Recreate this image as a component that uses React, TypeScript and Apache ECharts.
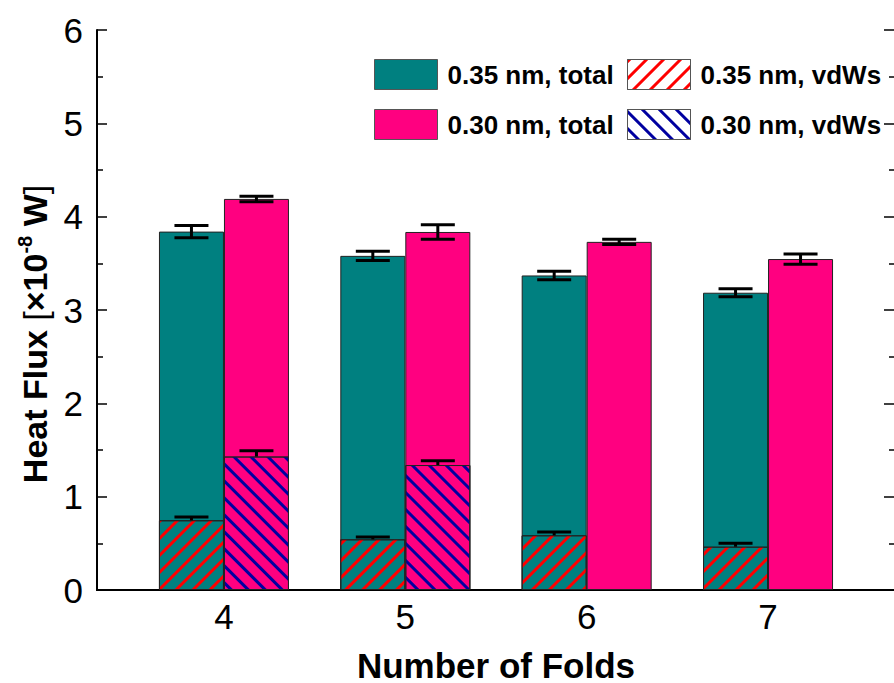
import React, { useEffect, useRef } from "react";
import * as echarts from "echarts";

const CATEGORIES = [4, 5, 6, 7];
const TOTAL_035 = [3.84, 3.58, 3.37, 3.185];
const TOTAL_035_ERR = [0.065, 0.05, 0.045, 0.043];
const TOTAL_030 = [4.19, 3.836, 3.73, 3.546];
const TOTAL_030_ERR = [0.03, 0.077, 0.027, 0.055];
const VDW_035 = [0.747, 0.543, 0.586, 0.464];
const VDW_035_ERR = [0.035, 0.025, 0.035, 0.036];
const VDW_030: (number | null)[] = [1.43, 1.339, null, null];
const VDW_030_ERR: (number | null)[] = [0.063, 0.046, null, null];
const X_TICK_VALUES = [4, 5, 6, 7];

const NAME_T35 = "0.35 nm, total";
const NAME_T30 = "0.30 nm, total";
const NAME_V35 = "0.35 nm, vdWs";
const NAME_V30 = "0.30 nm, vdWs";

const FONT = "'Liberation Sans', Arial, Helvetica, sans-serif";
const TEAL = "#008080";
const PINK = "#FF0080";
const BAR_WIDTH = 65;
const CAP = 34;

export default function App() {
  const ref = useRef<HTMLDivElement>(null);
  useEffect(() => {
    if (!ref.current) return;
    const chart = echarts.init(ref.current, null, { renderer: "svg" });

    const redDecal = {
      symbol: "rect",
      symbolSize: 1,
      dashArrayX: [1, 0],
      dashArrayY: [2.6, 8.2],
      rotation: -Math.PI / 4,
      color: "#FF0000",
    };
    const blueDecal = {
      symbol: "rect",
      symbolSize: 1,
      dashArrayX: [1, 0],
      dashArrayY: [2.6, 8.2],
      rotation: Math.PI / 4,
      color: "#0000A0",
    };
    const border = { borderColor: "#222", borderWidth: 1 };

    const errData: number[][] = [];
    CATEGORIES.forEach((c, i) => {
      errData.push([c, TOTAL_035[i], TOTAL_035_ERR[i], -1, 0]);
      errData.push([c, TOTAL_030[i], TOTAL_030_ERR[i], 1, 0]);
      errData.push([c, VDW_035[i], VDW_035_ERR[i], -1, 1]);
      if (VDW_030[i] != null && VDW_030_ERR[i] != null) {
        errData.push([c, VDW_030[i] as number, VDW_030_ERR[i] as number, 1, 1]);
      }
    });

    const axisLine = { show: true, lineStyle: { color: "#000", width: 2 } };

    const legendCommon = {
      orient: "vertical",
      top: 54,
      itemWidth: 63,
      itemHeight: 30,
      itemGap: 19,
      icon: "rect",
      selectedMode: false,
      textStyle: {
        fontFamily: FONT,
        fontSize: 26,
        fontWeight: "bold",
        color: "#000",
        padding: [0, 0, 0, 5],
      },
    };

    chart.setOption({
      animation: false,
      backgroundColor: "#fff",
      legend: [
        {
          ...legendCommon,
          left: 369,
          data: [
            { name: NAME_T35, itemStyle: { borderColor: "#555", borderWidth: 1 } },
            { name: NAME_T30, itemStyle: { borderColor: "#555", borderWidth: 1 } },
          ],
        },
        {
          ...legendCommon,
          left: 622,
          data: [
            { name: NAME_V35, itemStyle: { color: "#fff", borderColor: "#555", borderWidth: 1 } },
            { name: NAME_V30, itemStyle: { color: "#fff", borderColor: "#555", borderWidth: 1 } },
          ],
        },
      ],
      grid: { left: 97, top: 30, width: 798, height: 560, containLabel: false, outerBoundsMode: "none" },
      xAxis: [
        {
          type: "value",
          min: 3.3,
          max: 7.7,
          position: "bottom",
          axisLine,
          axisTick: { show: false },
          splitLine: { show: false },
          axisLabel: {
            customValues: X_TICK_VALUES,
            fontFamily: FONT,
            fontSize: 35,
            color: "#000",
            margin: 9,
          },
          name: "Number of Folds",
          nameLocation: "middle",
          nameGap: 60,
          nameTextStyle: { fontFamily: FONT, fontSize: 35, fontWeight: "bold", color: "#000", lineHeight: 30 },
        },
        {
          type: "value",
          min: 3.3,
          max: 7.7,
          position: "top",
          axisLine,
          axisTick: { show: false },
          axisLabel: { show: false },
          splitLine: { show: false },
        },
      ],
      yAxis: [
        {
          type: "value",
          min: 0,
          max: 6,
          interval: 1,
          position: "left",
          axisLine,
          axisTick: { show: true, inside: true, length: 10, lineStyle: { color: "#000", width: 1.5 } },
          minorTick: { show: true, splitNumber: 2, length: 6, lineStyle: { color: "#000", width: 1.5 } },
          splitLine: { show: false },
          axisLabel: { fontFamily: FONT, fontSize: 35, color: "#000", margin: 14 },
        },
        {
          type: "value",
          min: 0,
          max: 6,
          interval: 1,
          position: "right",
          axisLine,
          axisTick: { show: true, inside: true, length: 11, lineStyle: { color: "#000", width: 1.5 } },
          minorTick: { show: true, splitNumber: 2, length: 6, lineStyle: { color: "#000", width: 1.5 } },
          splitLine: { show: false },
          axisLabel: { show: false },
        },
      ],
      graphic: [
        {
          type: "text",
          x: 35,
          y: 334,
          rotation: Math.PI / 2,
          style: {
            text: "{b|Heat Flux }{r|[}{b|×10}{s|-8}{b| W}{r|]}",
            align: "center",
            verticalAlign: "middle",
            rich: {
              b: { fontFamily: FONT, fontSize: 34, fontWeight: "bold", fill: "#000", lineHeight: 40 },
              r: { fontFamily: FONT, fontSize: 34, fontWeight: "normal", fill: "#000", lineHeight: 40 },
              s: { fontFamily: FONT, fontSize: 20, fontWeight: "bold", fill: "#000", verticalAlign: "top", lineHeight: 22 },
            },
          },
        },
      ],
      series: [
        {
          name: NAME_T35,
          type: "bar",
          xAxisIndex: 0,
          barWidth: BAR_WIDTH,
          barGap: "0%",
          itemStyle: { color: TEAL, ...border },
          data: CATEGORIES.map((c, i) => [c, TOTAL_035[i]]),
        },
        {
          name: NAME_T30,
          type: "bar",
          xAxisIndex: 0,
          barWidth: BAR_WIDTH,
          barGap: "0%",
          itemStyle: { color: PINK, ...border },
          data: CATEGORIES.map((c, i) => [c, TOTAL_030[i]]),
        },
        {
          name: NAME_V35,
          type: "bar",
          xAxisIndex: 1,
          z: 3,
          barWidth: BAR_WIDTH,
          barGap: "0%",
          itemStyle: { color: TEAL, decal: redDecal, ...border },
          data: CATEGORIES.map((c, i) => [c, VDW_035[i]]),
        },
        {
          name: NAME_V30,
          type: "bar",
          xAxisIndex: 1,
          z: 3,
          barWidth: BAR_WIDTH,
          barGap: "0%",
          itemStyle: { color: PINK, decal: blueDecal, ...border },
          data: CATEGORIES.map((c, i) => [c, VDW_030[i] == null ? "-" : VDW_030[i]]),
        },
        {
          name: "errors",
          type: "custom",
          z: 5,
          encode: { x: 0, y: 1 },
          data: errData,
          renderItem: (params: any, api: any) => {
            const x = api.value(0);
            const v = api.value(1);
            const e = api.value(2);
            const side = api.value(3);
            const mode = api.value(4);
            const c = api.coord([x, v]);
            const cx = c[0] + (side * BAR_WIDTH) / 2;
            const yTop = api.coord([x, v + e])[1];
            const yBot = mode === 1 ? c[1] : api.coord([x, v - e])[1];
            const st = { stroke: "#000", lineWidth: 3 };
            const children: any[] = [
              { type: "line", shape: { x1: cx, y1: yTop, x2: cx, y2: yBot }, style: st },
              { type: "line", shape: { x1: cx - CAP / 2, y1: yTop, x2: cx + CAP / 2, y2: yTop }, style: st },
            ];
            if (mode !== 1) {
              children.push({ type: "line", shape: { x1: cx - CAP / 2, y1: yBot, x2: cx + CAP / 2, y2: yBot }, style: st });
            }
            return { type: "group", children };
          },
        },
      ],
    });
    return () => chart.dispose();
  }, []);
  return <div ref={ref} style={{ position: "absolute", left: 0, top: 0, width: 894, height: 683 }} />;
}
